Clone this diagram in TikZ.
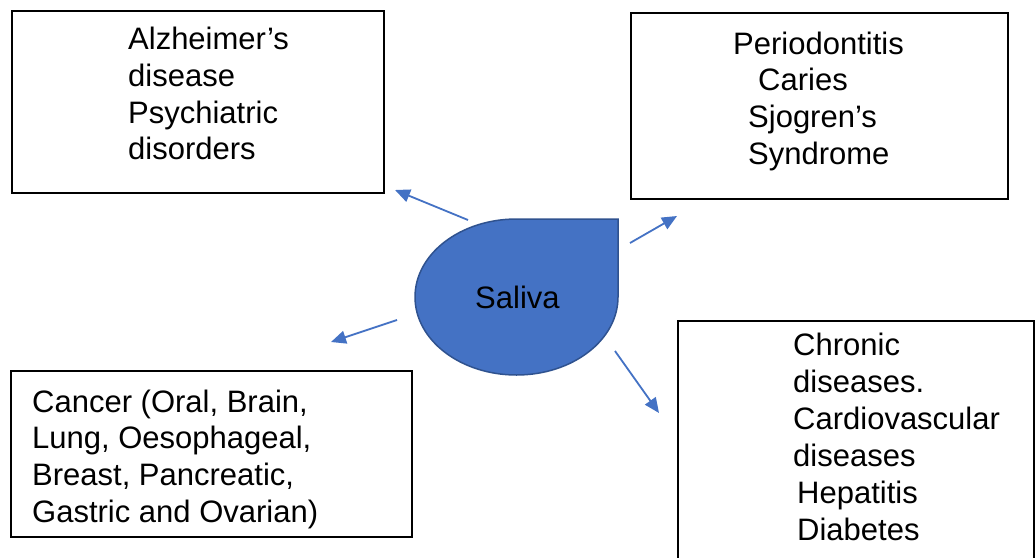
\documentclass[tikz,border=0pt]{standalone}
\usepackage{fontspec}
\setmainfont{Liberation Sans}
\usetikzlibrary{arrows.meta}
\definecolor{dropfill}{HTML}{4472C4}
\definecolor{dropline}{HTML}{2F528F}
\definecolor{arrowc}{HTML}{4472C4}
\tikzset{
  boxframe/.style={draw=black, line width=1.5pt, fill=none, inner sep=0pt, anchor=north west},
  txt/.style={anchor=base west, inner sep=0pt, font=\fontsize{31}{37}\selectfont},
  link/.style={draw=arrowc, line width=1.8pt, -{Triangle[length=15pt,width=13pt]}},
}
\begin{document}
\begin{tikzpicture}[x=1pt,y=-1pt]
\useasboundingbox (0,0) rectangle (1035,557);
% boxes
\node[boxframe, minimum width=372pt, minimum height=182pt] (b1) at (11,10) {};
\node[boxframe, minimum width=377pt, minimum height=186pt] (b2) at (630,12) {};
\node[boxframe, minimum width=401pt, minimum height=166pt] (b3) at (10,370) {};
\node[boxframe, minimum width=356pt, minimum height=260pt] (b4) at (677,320) {};
% box 1 text
\node[txt] (t11) at (128,49) {Alzheimer’s};
\node[txt] (t12) at (128,86) {disease};
\node[txt] (t13) at (128,123) {Psychiatric};
\node[txt] (t14) at (128,159) {disorders};
% box 2 text
\node[txt] (t21) at (733,54) {Periodontitis};
\node[txt] (t22) at (758,90) {Caries};
\node[txt] (t23) at (748,127) {Sjogren’s};
\node[txt] (t24) at (748,164) {Syndrome};
% box 3 text
\node[txt] (t31) at (32,412) {Cancer (Oral, Brain,};
\node[txt] (t32) at (32,448) {Lung, Oesophageal,};
\node[txt] (t33) at (32,485) {Breast, Pancreatic,};
\node[txt] (t34) at (32,522) {Gastric and Ovarian)};
% box 4 text
\node[txt] (t41) at (793,355) {Chronic};
\node[txt] (t42) at (793,392) {diseases.};
\node[txt] (t43) at (793,429) {Cardiovascular};
\node[txt] (t44) at (793,466) {diseases};
\node[txt] (t45) at (797,503) {Hepatitis};
\node[txt] (t46) at (797,540) {Diabetes};
% drop
\draw[fill=dropfill, draw=dropline, line width=1.5pt]
  (618,219) -- (618,297)
  arc[start angle=0, end angle=180, x radius=101.5, y radius=78]
  arc[start angle=180, end angle=270, x radius=101.5, y radius=78]
  -- cycle;
\node[txt] (saliva) at (475,308) {Saliva};
% arrow end points
\coordinate (s1) at (468,220);
\coordinate (e1) at (395,190);
\coordinate (s2) at (630,243);
\coordinate (e2) at (677,216);
\coordinate (s3) at (397,320);
\coordinate (e3) at (331,342);
\coordinate (s4) at (615,351);
\coordinate (e4) at (659,413);
\draw[link] (s1) -- (e1);
\draw[link] (s2) -- (e2);
\draw[link] (s3) -- (e3);
\draw[link] (s4) -- (e4);
\end{tikzpicture}
\end{document}
